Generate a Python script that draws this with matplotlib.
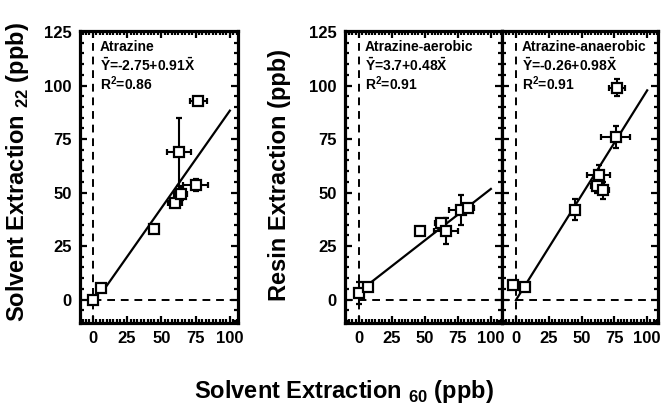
import numpy as np
import matplotlib
matplotlib.use("Agg")
import matplotlib.pyplot as plt
from matplotlib.ticker import MultipleLocator

plt.rcParams["font.family"] = ["Liberation Sans", "DejaVu Sans"]
plt.rcParams["font.weight"] = "bold"
plt.rcParams["mathtext.fontset"] = "custom"
plt.rcParams["mathtext.rm"] = "Liberation Sans:bold"
plt.rcParams["mathtext.bf"] = "Liberation Sans:bold"

# Atrazine (solvent 60 vs solvent 22)
atr_x = [0, 6, 45, 60, 64, 75, 63, 77]
atr_y = [0, 5.5, 33, 45, 49.5, 53.5, 69, 93]
atr_xerr = [0, 0, 0, 5, 5, 9, 9, 6]
atr_yerr = [0, 0, 0, 0, 3, 3, 16, 0]
atr_fit = (-2.75, 0.91, 8, 100)

# Atrazine aerobic (solvent 60 vs resin)
aer_x = [0, 7, 46, 62, 66, 77, 83]
aer_y = [3, 6, 32, 36, 32, 42, 43]
aer_xerr = [0, 0, 0, 4, 9, 9, 4]
aer_yerr = [5, 0, 0, 0, 6, 7, 0]
aer_fit = (3.7, 0.48, 5, 100)

# Atrazine anaerobic (solvent 60 vs resin)
ana_x = [-2, 7, 45, 63, 62, 66, 76, 77]
ana_y = [7, 6, 42, 58, 53, 51, 76, 99]
ana_xerr = [0, 0, 0, 9, 5, 5, 11, 6]
ana_yerr = [0, 0, 5, 5, 3, 4, 5, 4]
ana_fit = (-0.26, 0.98, 0, 100)

labels = [
    ["Atrazine", r"$\bar{\mathrm{Y}}$=-2.75+0.91$\bar{\mathrm{X}}$", r"R$^\mathrm{2}$=0.86"],
    ["Atrazine-aerobic", r"$\bar{\mathrm{Y}}$=3.7+0.48$\bar{\mathrm{X}}$", r"R$^\mathrm{2}$=0.91"],
    ["Atrazine-anaerobic", r"$\bar{\mathrm{Y}}$=-0.26+0.98$\bar{\mathrm{X}}$", r"R$^\mathrm{2}$=0.91"],
]

fig = plt.figure(figsize=(6.65, 4.07), dpi=100)
ax1 = fig.add_axes([0.120, 0.206, 0.238, 0.718])
ax2 = fig.add_axes([0.519, 0.206, 0.236, 0.718])
ax3 = fig.add_axes([0.755, 0.206, 0.235, 0.718])

panels = [
    (ax1, atr_x, atr_y, atr_xerr, atr_yerr, atr_fit, (-9.5, 106)),
    (ax2, aer_x, aer_y, aer_xerr, aer_yerr, aer_fit, (-10.5, 108.5)),
    (ax3, ana_x, ana_y, ana_xerr, ana_yerr, ana_fit, (-10.5, 108.5)),
]

for i, (ax, x, y, xe, ye, fit, xl) in enumerate(panels):
    b, m, x0, x1 = fit
    fx = np.array([x0, x1])
    ax.plot(fx, b + m * fx, color="black", lw=1.6, zorder=2)
    ax.axvline(0, color="black", ls=(0, (4, 3)), lw=1.4, zorder=1)
    ax.axhline(0, color="black", ls=(0, (4, 3)), lw=1.4, zorder=1)
    ax.errorbar(x, y, xerr=xe, yerr=ye, fmt="s", ms=7, mfc="white",
                mec="black", mew=1.6, ecolor="black", elinewidth=1.5,
                capsize=2.5, capthick=1.5, zorder=3)
    ax.set_xlim(*xl)
    ax.set_ylim(-11, 125.5)
    ax.xaxis.set_major_locator(MultipleLocator(25))
    ax.xaxis.set_minor_locator(MultipleLocator(2.5))
    ax.yaxis.set_major_locator(MultipleLocator(25))
    ax.yaxis.set_minor_locator(MultipleLocator(5))
    ax.tick_params(which="both", direction="in", top=True, right=True,
                   width=1.6, labelsize=12, pad=6)
    ax.tick_params(which="major", length=5)
    ax.tick_params(which="minor", length=3)
    for s in ax.spines.values():
        s.set_linewidth(2.3)
    for lbl in ax.get_xticklabels() + ax.get_yticklabels():
        lbl.set_fontweight("bold")
    for k, t in enumerate(labels[i]):
        ax.text(0.125, 0.945 - 0.062 * k, t, transform=ax.transAxes,
                fontsize=10, fontweight="bold", va="center", ha="left")

ax3.tick_params(axis="y", labelleft=False)

fig.text(0.027, 0.578, r"Solvent Extraction $_{\mathbf{22}}$ (ppb)",
         rotation=90, ha="center", va="center", fontsize=17, fontweight="bold")
fig.text(0.421, 0.57, "Resin Extraction (ppb)", rotation=90,
         ha="center", va="center", fontsize=17, fontweight="bold")
fig.text(0.517, 0.037, r"Solvent Extraction $_{\mathbf{60}}$ (ppb)",
         ha="center", va="center", fontsize=17, fontweight="bold")

fig.savefig("out.png", dpi=100)
